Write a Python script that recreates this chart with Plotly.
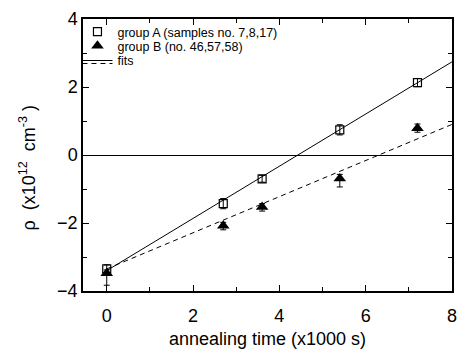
import plotly.graph_objects as go

# data
time_a = [0, 2.7, 3.6, 5.4, 7.2]
rho_a = [-3.35, -1.43, -0.70, 0.74, 2.13]
err_a = [0.12, 0.15, 0.10, 0.15, 0.12]

time_b = [0, 2.7, 3.6, 5.4, 7.2]
rho_b = [-3.48, -2.08, -1.53, -0.69, 0.79]
err_b_plus = [0.10, 0.10, 0.10, 0.12, 0.12]
err_b_minus = [0.35, 0.12, 0.12, 0.25, 0.12]

fit_x = [0, 8]
fit_a = [-3.40, 2.74]
fit_b = [-3.35, 0.90]

x_ticks = [0, 2, 4, 6, 8]
y_ticks = [-4, -2, 0, 2, 4]

FONT = "Liberation Sans, Arial"

fig = go.Figure()
fig.add_trace(go.Scatter(x=fit_x, y=fit_a, mode="lines", line=dict(color="black", width=1),
                         name="fits", legend="legend3", showlegend=True))
fig.add_trace(go.Scatter(x=fit_x, y=fit_b, mode="lines", line=dict(color="black", width=1, dash="5px,4px"),
                         name="", legend="legend4", showlegend=True))
fig.add_trace(go.Scatter(x=time_a, y=rho_a, mode="markers", name="group A (samples no. 7,8,17)",
                         marker=dict(symbol="square-open", size=8, color="black", line=dict(width=1.2)),
                         error_y=dict(type="data", array=err_a, color="black", thickness=1, width=3),
                         legend="legend", showlegend=True))
fig.add_trace(go.Scatter(x=time_b, y=rho_b, mode="markers", name="group B (no. 46,57,58)",
                         marker=dict(symbol="triangle-up", size=11, color="black"),
                         error_y=dict(type="data", array=err_b_plus, arrayminus=err_b_minus,
                                      color="black", thickness=1, width=3),
                         legend="legend2", showlegend=True))

axis_common = dict(showline=True, linecolor="black", linewidth=1.5, mirror="allticks",
                   ticks="inside", ticklen=6, tickwidth=1, tickcolor="black",
                   showgrid=False, tickfont=dict(family=FONT, size=18, color="black"))

fig.update_xaxes(range=[-0.55, 8], tickvals=x_ticks, zeroline=False, ticklabelstandoff=8,
                 minor=dict(dtick=1, ticks="inside", ticklen=4, tickcolor="black", tickwidth=1, showgrid=False),
                 title=dict(text="annealing time (x1000 s)", font=dict(family=FONT, size=18, color="black"), standoff=7),
                 **axis_common)
fig.update_yaxes(range=[-4, 4], tickvals=y_ticks, zeroline=True, zerolinecolor="black", zerolinewidth=1.2,
                 minor=dict(dtick=1, ticks="inside", ticklen=4, tickcolor="black", tickwidth=1, showgrid=False),
                 **axis_common)

fig.add_annotation(text="ρ  (x10<sup>12</sup>  cm<sup>-3</sup> )", textangle=-90,
                   xref="paper", yref="paper", x=0, y=0.45, xanchor="center", yanchor="middle",
                   xshift=-55, showarrow=False, font=dict(family=FONT, size=18, color="black"))

leg_common = dict(xanchor="left", yanchor="middle", bgcolor="rgba(0,0,0,0)",
                  font=dict(size=12.5, family=FONT, color="black"), itemwidth=30, borderwidth=0)

fig.update_layout(
    width=466, height=355,
    margin=dict(l=83, r=9, t=13, b=63),
    plot_bgcolor="white", paper_bgcolor="white",
    font=dict(family=FONT, color="black"),
    showlegend=True,
    legend=dict(x=-0.015, y=0.952, **leg_common),
    legend2=dict(x=-0.015, y=0.900, **leg_common),
    legend3=dict(x=-0.015, y=0.846, **leg_common),
    legend4=dict(x=-0.015, y=0.835, **leg_common),
)

fig.write_html("out.html")
